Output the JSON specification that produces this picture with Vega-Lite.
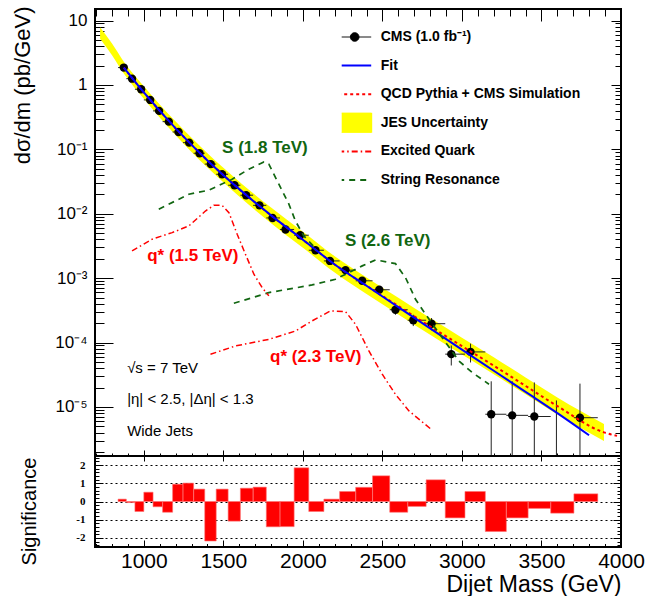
{
  "$schema": "https://vega.github.io/schema/vega-lite/v6.json",
  "padding": {"left": 9, "top": 5, "right": 2, "bottom": 2},
  "spacing": 0,
  "bounds": "flush",
  "config": {
    "font": "Liberation Sans",
    "view": {"stroke": "black", "strokeWidth": 2},
    "axis": {"domain": false, "grid": false, "tickColor": "black", "tickWidth": 1, "labelColor": "black", "titleColor": "black", "labelFont": "Liberation Sans", "titleFont": "Liberation Sans", "titleFontWeight": "normal", "labelOverlap": false, "labelFlush": false, "labelBound": false}
  },
  "datasets": {
    "points": [
      {"m":874,"v":1.86,"lo":1.854,"hi":1.866,"xlo":838,"xhi":890},
      {"m":926,"v":1.25,"lo":1.245,"hi":1.255,"xlo":890,"xhi":944},
      {"m":983,"v":0.857,"lo":0.853,"hi":0.861,"xlo":944,"xhi":1000},
      {"m":1040,"v":0.585,"lo":0.582,"hi":0.588,"xlo":1000,"xhi":1058},
      {"m":1096,"v":0.395,"lo":0.3924,"hi":0.3976,"xlo":1058,"xhi":1118},
      {"m":1157,"v":0.269,"lo":0.2669,"hi":0.2711,"xlo":1118,"xhi":1181},
      {"m":1218,"v":0.186,"lo":0.1843,"hi":0.1877,"xlo":1181,"xhi":1246},
      {"m":1285,"v":0.127,"lo":0.1256,"hi":0.1284,"xlo":1246,"xhi":1313},
      {"m":1350,"v":0.087,"lo":0.0859,"hi":0.0881,"xlo":1313,"xhi":1383},
      {"m":1421,"v":0.059,"lo":0.0581,"hi":0.0599,"xlo":1383,"xhi":1455},
      {"m":1492,"v":0.041,"lo":0.0403,"hi":0.0417,"xlo":1455,"xhi":1530},
      {"m":1570,"v":0.0277,"lo":0.0271,"hi":0.0283,"xlo":1530,"xhi":1607},
      {"m":1643,"v":0.0194,"lo":0.0189,"hi":0.0199,"xlo":1607,"xhi":1687},
      {"m":1727,"v":0.0135,"lo":0.0131,"hi":0.0139,"xlo":1687,"xhi":1770},
      {"m":1809,"v":0.0086,"lo":0.00828,"hi":0.00892,"xlo":1770,"xhi":1856},
      {"m":1891,"v":0.0057,"lo":0.00545,"hi":0.00595,"xlo":1856,"xhi":1945},
      {"m":1983,"v":0.00464,"lo":0.00442,"hi":0.00486,"xlo":1945,"xhi":2037},
      {"m":2079,"v":0.00271,"lo":0.00254,"hi":0.00288,"xlo":2037,"xhi":2132},
      {"m":2170,"v":0.00185,"lo":0.00171,"hi":0.00199,"xlo":2132,"xhi":2231},
      {"m":2268,"v":0.00133,"lo":0.00122,"hi":0.00144,"xlo":2231,"xhi":2332},
      {"m":2373,"v":0.000909,"lo":0.00082,"hi":0.001,"xlo":2332,"xhi":2438},
      {"m":2480,"v":0.00066,"lo":0.00058,"hi":0.00074,"xlo":2438,"xhi":2546},
      {"m":2582,"v":0.000323,"lo":0.00027,"hi":0.00038,"xlo":2546,"xhi":2659},
      {"m":2694,"v":0.000222,"lo":0.00018,"hi":0.00027,"xlo":2659,"xhi":2775},
      {"m":2809,"v":0.000196,"lo":0.000155,"hi":0.00024,"xlo":2775,"xhi":2895},
      {"m":2933,"v":0.000066,"lo":0.000044,"hi":0.00009,"xlo":2895,"xhi":3019},
      {"m":3054,"v":0.0000715,"lo":0.000049,"hi":0.000096,"xlo":3019,"xhi":3147},
      {"m":3184,"v":0.0000077,"lo":1e-7,"hi":0.000025,"xlo":3147,"xhi":3279},
      {"m":3316,"v":0.0000074,"lo":1e-7,"hi":0.000025,"xlo":3279,"xhi":3416},
      {"m":3455,"v":0.0000071,"lo":1e-7,"hi":0.000024,"xlo":3416,"xhi":3558},
      {"m":3594,"v":null,"lo":1e-7,"hi":0.0000126,"xlo":3558,"xhi":3704},
      {"m":3742,"v":0.0000068,"lo":1e-7,"hi":0.000023,"xlo":3704,"xhi":3854}
    ],
    "band": [
      {"m":725,"lo":5.21,"hi":7.89},
      {"m":800,"lo":2.88,"hi":4.39},
      {"m":874,"lo":1.5,"hi":2.3},
      {"m":1000,"lo":0.61,"hi":0.957},
      {"m":1200,"lo":0.166,"hi":0.27},
      {"m":1400,"lo":0.052,"hi":0.0871},
      {"m":1600,"lo":0.01845,"hi":0.0315},
      {"m":1800,"lo":0.00713,"hi":0.01245},
      {"m":2000,"lo":0.002965,"hi":0.00525},
      {"m":2200,"lo":0.001219,"hi":0.002188},
      {"m":2400,"lo":0.000566,"hi":0.001026},
      {"m":2600,"lo":0.0002735,"hi":0.000495},
      {"m":2800,"lo":0.000132,"hi":0.00024},
      {"m":3000,"lo":0.0000653,"hi":0.000119},
      {"m":3200,"lo":0.0000323,"hi":0.000059},
      {"m":3400,"lo":0.0000157,"hi":0.0000286},
      {"m":3600,"lo":0.0000076,"hi":0.000014},
      {"m":3893,"lo":0.00000296,"hi":0.00000545}
    ],
    "curves": [
      {"curve":"fit","m":874,"v":1.86},{"curve":"fit","m":1000,"v":0.764},{"curve":"fit","m":1200,"v":0.212},{"curve":"fit","m":1400,"v":0.0673},{"curve":"fit","m":1600,"v":0.0241},{"curve":"fit","m":1800,"v":0.00942},{"curve":"fit","m":2000,"v":0.00395},{"curve":"fit","m":2200,"v":0.00163},{"curve":"fit","m":2400,"v":0.000762},{"curve":"fit","m":2600,"v":0.000355},{"curve":"fit","m":2800,"v":0.000166},{"curve":"fit","m":3000,"v":0.0000778},{"curve":"fit","m":3200,"v":0.0000365},{"curve":"fit","m":3400,"v":0.0000171},{"curve":"fit","m":3600,"v":0.000008},{"curve":"fit","m":3799,"v":0.00000363},
      {"curve":"qcd","m":874,"v":1.86},{"curve":"qcd","m":1000,"v":0.764},{"curve":"qcd","m":1200,"v":0.212},{"curve":"qcd","m":1400,"v":0.0673},{"curve":"qcd","m":1600,"v":0.0241},{"curve":"qcd","m":1800,"v":0.00942},{"curve":"qcd","m":2000,"v":0.00395},{"curve":"qcd","m":2200,"v":0.00163},{"curve":"qcd","m":2400,"v":0.000762},{"curve":"qcd","m":2600,"v":0.000368},{"curve":"qcd","m":2800,"v":0.000178},{"curve":"qcd","m":3000,"v":0.0000881},{"curve":"qcd","m":3200,"v":0.0000437},{"curve":"qcd","m":3400,"v":0.0000212},{"curve":"qcd","m":3600,"v":0.0000103},{"curve":"qcd","m":3893,"v":0.00000402},{"curve":"qcd","m":3975,"v":0.00000355},
      {"curve":"s18","m":1094,"v":0.01175},{"curve":"s18","m":1283,"v":0.0201},{"curve":"s18","m":1409,"v":0.0232},{"curve":"s18","m":1555,"v":0.0343},{"curve":"s18","m":1660,"v":0.0491},{"curve":"s18","m":1755,"v":0.0637},{"curve":"s18","m":1786,"v":0.0587},{"curve":"s18","m":1849,"v":0.0287},{"curve":"s18","m":1912,"v":0.0141},{"curve":"s18","m":1953,"v":0.00773},{"curve":"s18","m":2006,"v":0.00452},{"curve":"s18","m":2071,"v":0.00305},
      {"curve":"s26","m":1566,"v":0.000407},{"curve":"s26","m":1786,"v":0.000596},{"curve":"s26","m":2058,"v":0.000784},{"curve":"s26","m":2205,"v":0.00096},{"curve":"s26","m":2289,"v":0.00122},{"curve":"s26","m":2373,"v":0.00155},{"curve":"s26","m":2457,"v":0.00192},{"curve":"s26","m":2582,"v":0.00168},{"curve":"s26","m":2645,"v":0.00102},{"curve":"s26","m":2708,"v":0.00047},{"curve":"s26","m":2771,"v":0.000275},{"curve":"s26","m":2876,"v":0.000119},{"curve":"s26","m":2981,"v":0.0000518},{"curve":"s26","m":3065,"v":0.0000341},{"curve":"s26","m":3170,"v":0.0000225},
      {"curve":"q15","m":926,"v":0.00264},{"curve":"q15","m":1052,"v":0.00402},{"curve":"q15","m":1178,"v":0.00509},{"curve":"q15","m":1283,"v":0.00647},{"curve":"q15","m":1387,"v":0.011},{"curve":"q15","m":1440,"v":0.0135},{"curve":"q15","m":1492,"v":0.0135},{"curve":"q15","m":1535,"v":0.0104},{"curve":"q15","m":1587,"v":0.0048},{"curve":"q15","m":1639,"v":0.00235},{"curve":"q15","m":1692,"v":0.00115},{"curve":"q15","m":1744,"v":0.000712},{"curve":"q15","m":1786,"v":0.00053},
      {"curve":"q23","m":1419,"v":0.0000658},{"curve":"q23","m":1576,"v":0.0000885},{"curve":"q23","m":1786,"v":0.000112},{"curve":"q23","m":1953,"v":0.000151},{"curve":"q23","m":2058,"v":0.000217},{"curve":"q23","m":2174,"v":0.00031},{"curve":"q23","m":2268,"v":0.000302},{"curve":"q23","m":2331,"v":0.000192},{"curve":"q23","m":2415,"v":0.000074},{"curve":"q23","m":2499,"v":0.0000322},{"curve":"q23","m":2582,"v":0.0000157},{"curve":"q23","m":2667,"v":0.00000867},{"curve":"q23","m":2813,"v":0.00000435}
    ],
    "notes": [
      {"kind":"string","txt":"S (1.8 TeV)","m":1492,"v":0.105},
      {"kind":"string","txt":"S (2.6 TeV)","m":2264,"v":0.00378},
      {"kind":"quark","txt":"q* (1.5 TeV)","m":1021,"v":0.00221},
      {"kind":"quark","txt":"q* (2.3 TeV)","m":1794,"v":0.0000597},
      {"kind":"info","txt":"√s = 7 TeV","m":895,"v":0.0000407},
      {"kind":"info","txt":"|η| < 2.5, |Δη| < 1.3","m":895,"v":0.0000133},
      {"kind":"info","txt":"Wide Jets","m":895,"v":0.00000424}
    ],
    "sig": [
      {"lo":838,"hi":890,"s":0.13},{"lo":890,"hi":944,"s":-0.06},{"lo":944,"hi":1000,"s":-0.55},{"lo":1000,"hi":1058,"s":0.51},{"lo":1058,"hi":1118,"s":-0.29},{"lo":1118,"hi":1181,"s":-0.59},{"lo":1181,"hi":1246,"s":0.95},{"lo":1246,"hi":1313,"s":1.01},{"lo":1313,"hi":1383,"s":0.68},{"lo":1383,"hi":1455,"s":-2.17},{"lo":1455,"hi":1530,"s":0.68},{"lo":1530,"hi":1607,"s":-1.08},{"lo":1607,"hi":1687,"s":0.73},{"lo":1687,"hi":1770,"s":0.79},{"lo":1770,"hi":1856,"s":-1.39},{"lo":1856,"hi":1945,"s":-1.38},{"lo":1945,"hi":2037,"s":1.85},{"lo":2037,"hi":2132,"s":-0.55},{"lo":2132,"hi":2231,"s":0.13},{"lo":2231,"hi":2332,"s":0.55},{"lo":2332,"hi":2438,"s":0.78},{"lo":2438,"hi":2546,"s":1.41},{"lo":2546,"hi":2659,"s":-0.59},{"lo":2659,"hi":2775,"s":-0.27},{"lo":2775,"hi":2895,"s":1.19},{"lo":2895,"hi":3019,"s":-0.9},{"lo":3019,"hi":3147,"s":0.55},{"lo":3147,"hi":3279,"s":-1.65},{"lo":3279,"hi":3416,"s":-0.9},{"lo":3416,"hi":3558,"s":-0.38},{"lo":3558,"hi":3704,"s":-0.64},{"lo":3704,"hi":3854,"s":0.42}
    ]
  },
  "vconcat": [
    {
      "width": 526,
      "height": 447,
      "resolve": {"axis": {"x": "independent", "y": "independent"}},
      "layer": [
        {
          "data": {"name": "band"},
          "mark": {"type": "area", "interpolate": "monotone", "opacity": 1, "clip": true},
          "encoding": {
            "x": {"field": "m", "type": "quantitative", "scale": {"domain": [693, 4000], "nice": false, "zero": false},
                  "axis": {"orient": "top", "values": [1000,1500,2000,2500,3000,3500,4000], "tickSize": -12, "labels": false, "title": null}},
            "y": {"field": "hi", "type": "quantitative", "scale": {"type": "log", "domain": [0.00000173, 15.1], "nice": false},
                  "axis": {"orient": "left", "values": [0.00001,0.0001,0.001,0.01,0.1,1,10], "tickSize": -18, "labelPadding": 26, "labelFontSize": 17,
                           "labelExpr": "datum.value > 5 ? '10' : datum.value > 0.5 ? '1' : '10' + ['', '⁻¹', '⁻²', '⁻³', '⁻⁴', '⁻⁵', '⁻⁶'][round(-log(datum.value)/LN10)]",
                           "title": "dσ/dm (pb/GeV)", "titleFontSize": 22, "titleAnchor": "end", "titleAngle": -90, "titleX": -73, "titleY": -3, "titleBaseline": "middle"}},
            "y2": {"field": "lo"},
            "color": {"datum": "JES Uncertainty", "type": "nominal",
                      "scale": {"domain": ["CMS (1.0 fb⁻¹)", "Fit", "QCD Pythia + CMS Simulation", "JES Uncertainty", "Excited Quark", "String Resonance"], "range": ["#000000", "#0000ff", "#ff0000", "#ffff00", "#ff0000", "#116611"]}}
          }
        },
        {
          "data": {"name": "points"},
          "mark": {"type": "rule", "color": "#222222", "strokeWidth": 1, "clip": true},
          "encoding": {
            "x": {"field": "m", "type": "quantitative", "scale": {"domain": [693, 4000], "nice": false, "zero": false},
                  "axis": {"orient": "top", "values": [700,800,900,1000,1100,1200,1300,1400,1500,1600,1700,1800,1900,2000,2100,2200,2300,2400,2500,2600,2700,2800,2900,3000,3100,3200,3300,3400,3500,3600,3700,3800,3900,4000], "tickSize": -7, "labels": false, "title": null}},
            "y": {"field": "lo", "type": "quantitative", "scale": {"type": "log", "domain": [0.00000173, 15.1], "nice": false},
                  "axis": {"orient": "left", "values": [2e-6,3e-6,4e-6,5e-6,6e-6,7e-6,8e-6,9e-6,2e-5,3e-5,4e-5,5e-5,6e-5,7e-5,8e-5,9e-5,2e-4,3e-4,4e-4,5e-4,6e-4,7e-4,8e-4,9e-4,0.002,0.003,0.004,0.005,0.006,0.007,0.008,0.009,0.02,0.03,0.04,0.05,0.06,0.07,0.08,0.09,0.2,0.3,0.4,0.5,0.6,0.7,0.8,0.9,2,3,4,5,6,7,8,9], "tickSize": -9, "labels": false, "title": null}},
            "y2": {"field": "hi"}
          }
        },
        {
          "data": {"name": "points"},
          "transform": [{"filter": "datum.v != null"}],
          "mark": {"type": "rule", "color": "#222222", "strokeWidth": 1, "clip": true},
          "encoding": {
            "x": {"field": "xlo", "type": "quantitative", "scale": {"domain": [693, 4000], "nice": false, "zero": false},
                  "axis": {"orient": "bottom", "values": [1000,1500,2000,2500,3000,3500,4000], "tickSize": -6, "labels": false, "title": null}},
            "x2": {"field": "xhi"},
            "y": {"field": "v", "type": "quantitative", "scale": {"type": "log", "domain": [0.00000173, 15.1], "nice": false},
                  "axis": {"orient": "right", "values": [0.00001,0.0001,0.001,0.01,0.1,1,10], "tickSize": -10, "labels": false, "title": null}}
          }
        },
        {
          "data": {"name": "points"},
          "transform": [{"filter": "datum.v != null"}],
          "mark": {"type": "point", "filled": true, "opacity": 1, "size": 70, "clip": true},
          "encoding": {
            "x": {"field": "m", "type": "quantitative", "scale": {"domain": [693, 4000], "nice": false, "zero": false},
                  "axis": {"orient": "bottom", "values": [700,800,900,1000,1100,1200,1300,1400,1500,1600,1700,1800,1900,2000,2100,2200,2300,2400,2500,2600,2700,2800,2900,3000,3100,3200,3300,3400,3500,3600,3700,3800,3900,4000], "tickSize": -3, "labels": false, "title": null}},
            "y": {"field": "v", "type": "quantitative", "scale": {"type": "log", "domain": [0.00000173, 15.1], "nice": false},
                  "axis": {"orient": "right", "values": [2e-6,3e-6,4e-6,5e-6,6e-6,7e-6,8e-6,9e-6,2e-5,3e-5,4e-5,5e-5,6e-5,7e-5,8e-5,9e-5,2e-4,3e-4,4e-4,5e-4,6e-4,7e-4,8e-4,9e-4,0.002,0.003,0.004,0.005,0.006,0.007,0.008,0.009,0.02,0.03,0.04,0.05,0.06,0.07,0.08,0.09,0.2,0.3,0.4,0.5,0.6,0.7,0.8,0.9,2,3,4,5,6,7,8,9], "tickSize": -6, "labels": false, "title": null}},
            "color": {"datum": "CMS (1.0 fb⁻¹)", "type": "nominal",
                      "scale": {"domain": ["CMS (1.0 fb⁻¹)", "Fit", "QCD Pythia + CMS Simulation", "JES Uncertainty", "Excited Quark", "String Resonance"], "range": ["#000000", "#0000ff", "#ff0000", "#ffff00", "#ff0000", "#116611"]}}
          }
        },
        {
          "data": {"name": "curves"},
          "transform": [{"filter": "datum.curve == 'qcd'"}],
          "mark": {"type": "line", "interpolate": "monotone", "strokeWidth": 2, "strokeDash": [3, 3], "clip": true},
          "encoding": {
            "x": {"field": "m", "type": "quantitative", "scale": {"domain": [693, 4000], "nice": false, "zero": false}, "axis": null},
            "y": {"field": "v", "type": "quantitative", "scale": {"type": "log", "domain": [0.00000173, 15.1], "nice": false}, "axis": null},
            "color": {"datum": "QCD Pythia + CMS Simulation", "type": "nominal",
                      "scale": {"domain": ["CMS (1.0 fb⁻¹)", "Fit", "QCD Pythia + CMS Simulation", "JES Uncertainty", "Excited Quark", "String Resonance"], "range": ["#000000", "#0000ff", "#ff0000", "#ffff00", "#ff0000", "#116611"]}}
          }
        },
        {
          "data": {"name": "curves"},
          "transform": [{"filter": "datum.curve == 'fit'"}],
          "mark": {"type": "line", "interpolate": "monotone", "strokeWidth": 2, "clip": true},
          "encoding": {
            "x": {"field": "m", "type": "quantitative", "scale": {"domain": [693, 4000], "nice": false, "zero": false}, "axis": null},
            "y": {"field": "v", "type": "quantitative", "scale": {"type": "log", "domain": [0.00000173, 15.1], "nice": false}, "axis": null},
            "color": {"datum": "Fit", "type": "nominal",
                      "scale": {"domain": ["CMS (1.0 fb⁻¹)", "Fit", "QCD Pythia + CMS Simulation", "JES Uncertainty", "Excited Quark", "String Resonance"], "range": ["#000000", "#0000ff", "#ff0000", "#ffff00", "#ff0000", "#116611"]},
                      "legend": {
                        "orient": "none", "legendX": 246.7, "legendY": 18, "title": null, "padding": 0, "offset": 0,
                        "symbolSize": 400, "symbolStrokeWidth": 1.5, "symbolOffset": 6,
                        "clipHeight": 20, "rowPadding": 8.6, "labelOffset": 19,
                        "labelFont": "Liberation Sans", "labelFontWeight": "bold", "labelFontSize": 14, "labelColor": "black", "labelLimit": 400,
                        "encode": {"symbols": {"update": {
                          "shape": {"signal": "datum.value === 'JES Uncertainty' ? 'M-1.65,-1.05L1.65,-1.05L1.65,1.05L-1.65,1.05Z' : datum.value === 'CMS (1.0 fb⁻¹)' ? 'M-1.65,0L1.65,0M-0.43,0A0.43,0.43,0,1,1,0.43,0A0.43,0.43,0,1,1,-0.43,0Z' : 'M-1.65,0L1.65,0'"},
                          "fill": {"signal": "datum.value === 'JES Uncertainty' ? '#ffff00' : datum.value === 'CMS (1.0 fb⁻¹)' ? '#000000' : 'transparent'"},
                          "stroke": {"signal": "datum.value === 'JES Uncertainty' ? 'transparent' : datum.value === 'Fit' ? '#0000ff' : datum.value === 'String Resonance' ? '#116611' : datum.value === 'CMS (1.0 fb⁻¹)' ? '#000000' : '#ff0000'"},
                          "strokeDash": {"signal": "datum.value === 'QCD Pythia + CMS Simulation' ? [3, 3] : datum.value === 'Excited Quark' ? [6, 3, 1.5, 3] : datum.value === 'String Resonance' ? [6, 5] : [1, 0]"},
                          "strokeWidth": {"signal": "datum.value === 'CMS (1.0 fb⁻¹)' ? 1 : 2"},
                          "opacity": {"value": 1}
                        }}}
                      }}
          }
        },
        {
          "data": {"name": "curves"},
          "transform": [{"filter": "datum.curve == 's18' || datum.curve == 's26'"}],
          "mark": {"type": "line", "strokeWidth": 1.7, "strokeDash": [6, 5], "clip": true},
          "encoding": {
            "x": {"field": "m", "type": "quantitative", "scale": {"domain": [693, 4000], "nice": false, "zero": false}, "axis": null},
            "y": {"field": "v", "type": "quantitative", "scale": {"type": "log", "domain": [0.00000173, 15.1], "nice": false}, "axis": null},
            "detail": {"field": "curve"},
            "color": {"datum": "String Resonance", "type": "nominal",
                      "scale": {"domain": ["CMS (1.0 fb⁻¹)", "Fit", "QCD Pythia + CMS Simulation", "JES Uncertainty", "Excited Quark", "String Resonance"], "range": ["#000000", "#0000ff", "#ff0000", "#ffff00", "#ff0000", "#116611"]}}
          }
        },
        {
          "data": {"name": "curves"},
          "transform": [{"filter": "datum.curve == 'q15' || datum.curve == 'q23'"}],
          "mark": {"type": "line", "strokeWidth": 1.5, "strokeDash": [6, 3, 1.5, 3], "clip": true},
          "encoding": {
            "x": {"field": "m", "type": "quantitative", "scale": {"domain": [693, 4000], "nice": false, "zero": false}, "axis": null},
            "y": {"field": "v", "type": "quantitative", "scale": {"type": "log", "domain": [0.00000173, 15.1], "nice": false}, "axis": null},
            "detail": {"field": "curve"},
            "color": {"datum": "Excited Quark", "type": "nominal",
                      "scale": {"domain": ["CMS (1.0 fb⁻¹)", "Fit", "QCD Pythia + CMS Simulation", "JES Uncertainty", "Excited Quark", "String Resonance"], "range": ["#000000", "#0000ff", "#ff0000", "#ffff00", "#ff0000", "#116611"]}}
          }
        },
        {
          "data": {"name": "notes"},
          "transform": [{"filter": "datum.kind == 'string'"}],
          "mark": {"type": "text", "align": "left", "baseline": "middle", "font": "Liberation Sans", "fontWeight": "bold", "fontSize": 17, "color": "#116611"},
          "encoding": {
            "x": {"field": "m", "type": "quantitative", "scale": {"domain": [693, 4000], "nice": false, "zero": false}, "axis": null},
            "y": {"field": "v", "type": "quantitative", "scale": {"type": "log", "domain": [0.00000173, 15.1], "nice": false}, "axis": null},
            "text": {"field": "txt"}
          }
        },
        {
          "data": {"name": "notes"},
          "transform": [{"filter": "datum.kind == 'quark'"}],
          "mark": {"type": "text", "align": "left", "baseline": "middle", "font": "Liberation Sans", "fontWeight": "bold", "fontSize": 17, "color": "#ff0000"},
          "encoding": {
            "x": {"field": "m", "type": "quantitative", "scale": {"domain": [693, 4000], "nice": false, "zero": false}, "axis": null},
            "y": {"field": "v", "type": "quantitative", "scale": {"type": "log", "domain": [0.00000173, 15.1], "nice": false}, "axis": null},
            "text": {"field": "txt"}
          }
        },
        {
          "data": {"name": "notes"},
          "transform": [{"filter": "datum.kind == 'info'"}],
          "mark": {"type": "text", "align": "left", "baseline": "middle", "font": "Liberation Sans", "fontSize": 15, "color": "#000000"},
          "encoding": {
            "x": {"field": "m", "type": "quantitative", "scale": {"domain": [693, 4000], "nice": false, "zero": false}, "axis": null},
            "y": {"field": "v", "type": "quantitative", "scale": {"type": "log", "domain": [0.00000173, 15.1], "nice": false}, "axis": null},
            "text": {"field": "txt"}
          }
        }
      ]
    },
    {
      "width": 526,
      "height": 91,
      "resolve": {"axis": {"x": "independent", "y": "independent"}},
      "layer": [
        {
          "data": {"name": "sig"},
          "transform": [{"filter": "datum.s > 0"}],
          "mark": {"type": "rect", "color": "#ff0000"},
          "encoding": {
            "x": {"field": "lo", "type": "quantitative", "scale": {"domain": [693, 4000], "nice": false, "zero": false},
                  "axis": {"orient": "bottom", "values": [1000,1500,2000,2500,3000,3500,4000], "tickSize": -7, "labelPadding": 10, "labelFontSize": 21, "format": "d",
                           "title": "Dijet Mass (GeV)", "titleFontSize": 23, "titleAnchor": "end", "titleY": 37, "titleBaseline": "middle"}},
            "x2": {"field": "hi"},
            "y": {"field": "s", "type": "quantitative", "scale": {"domain": [-2.5, 2.5], "nice": false, "zero": false},
                  "axis": {"orient": "left", "values": [-2,-1,0,1,2], "tickSize": -8, "labelPadding": 18, "labelFont": "Liberation Serif", "labelFontWeight": "bold", "labelFontSize": 11,
                           "labelExpr": "datum.value < 0 ? '-' + abs(datum.value) : '' + datum.value",
                           "grid": true, "gridDash": [2, 3], "gridColor": "#000000", "gridOpacity": 1, "gridWidth": 1,
                           "title": "Significance", "titleFontSize": 20, "titleAngle": -90, "titleX": -66, "titleY": 55, "titleBaseline": "middle"}},
            "y2": {"datum": 0}
          }
        },
        {
          "data": {"name": "sig"},
          "transform": [{"filter": "datum.s <= 0"}],
          "mark": {"type": "rect", "color": "#ff0000"},
          "encoding": {
            "x": {"field": "lo", "type": "quantitative", "scale": {"domain": [693, 4000], "nice": false, "zero": false},
                  "axis": {"orient": "bottom", "values": [700,800,900,1000,1100,1200,1300,1400,1500,1600,1700,1800,1900,2000,2100,2200,2300,2400,2500,2600,2700,2800,2900,3000,3100,3200,3300,3400,3500,3600,3700,3800,3900,4000], "tickSize": -3.5, "labels": false, "title": null}},
            "x2": {"field": "hi"},
            "y": {"field": "s", "type": "quantitative", "scale": {"domain": [-2.5, 2.5], "nice": false, "zero": false},
                  "axis": {"orient": "left", "values": [-2.4,-2.2,-2,-1.8,-1.6,-1.4,-1.2,-1,-0.8,-0.6,-0.4,-0.2,0,0.2,0.4,0.6,0.8,1,1.2,1.4,1.6,1.8,2,2.2,2.4], "tickSize": -4, "labels": false, "title": null}},
            "y2": {"datum": 0}
          }
        },
        {
          "data": {"name": "sig"},
          "mark": {"type": "rect", "fill": null, "stroke": "#ff7070", "strokeWidth": 0.6},
          "encoding": {
            "x": {"field": "lo", "type": "quantitative", "scale": {"domain": [693, 4000], "nice": false, "zero": false},
                  "axis": {"orient": "top", "values": [1000,1500,2000,2500,3000,3500,4000], "tickSize": -5, "labels": false, "title": null}},
            "x2": {"field": "hi"},
            "y": {"field": "s", "type": "quantitative", "scale": {"domain": [-2.5, 2.5], "nice": false, "zero": false},
                  "axis": {"orient": "right", "values": [-2,-1,0,1,2], "tickSize": -8, "labels": false, "title": null}},
            "y2": {"datum": 0}
          }
        },
        {
          "mark": {"type": "rule", "color": "#000000", "strokeWidth": 1.2},
          "encoding": {
            "y": {"datum": 0, "type": "quantitative", "scale": {"domain": [-2.5, 2.5], "nice": false, "zero": false},
                  "axis": {"orient": "right", "values": [-2.4,-2.2,-2,-1.8,-1.6,-1.4,-1.2,-1,-0.8,-0.6,-0.4,-0.2,0,0.2,0.4,0.6,0.8,1,1.2,1.4,1.6,1.8,2,2.2,2.4], "tickSize": -4, "labels": false, "title": null}}
          }
        }
      ]
    }
  ]
}
